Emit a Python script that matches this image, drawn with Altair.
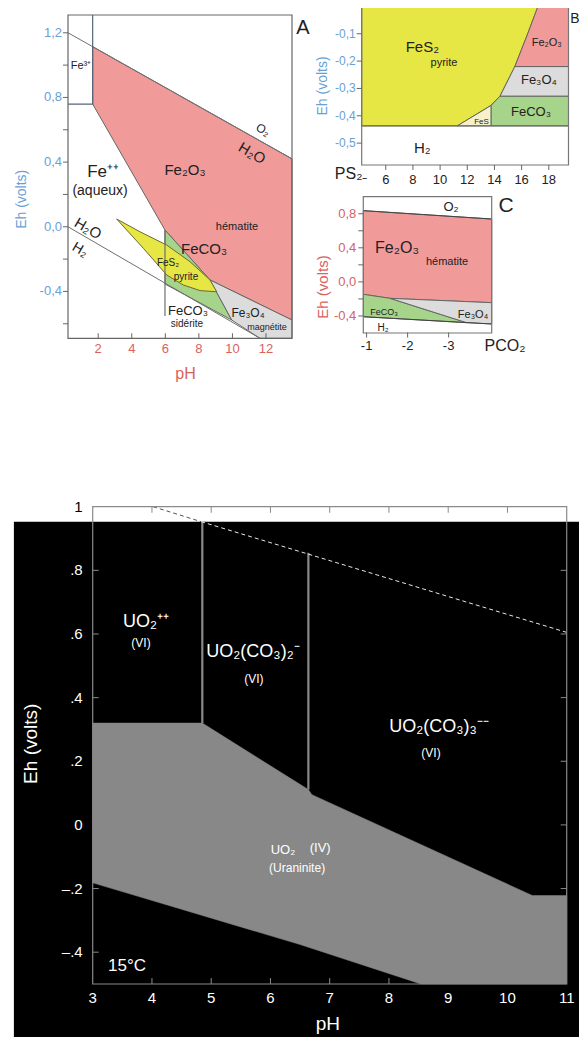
import altair as alt
import pandas as pd

W, H = 571, 1029
FONT = "Liberation Sans"

# ---------------- layout: data domain -> pixel range (chart coordinates)
PANELS = {
    "A": dict(xd=[0.2, 13.55], xr=[60, 284], yd=[-0.69, 1.31], yr=[330.3, 7]),
    "B": dict(xd=[4.23, 19.45], xr=[353.7, 560.5], yd=[-0.58, 0.0], yr=[157, -1.6]),
    "C": dict(xd=[-4.05, -0.92], xr=[483.7, 355.3], yd=[-0.6, 1.0], yr=[325, 188.7]),
    "U": dict(xd=[3, 11], xr=[84.7, 558.7], yd=[-0.5, 1.0], yr=[976, 498.7]),
}

# ---------------- Panel A : Fe  (pH, Eh)
A_O2_ph, A_O2_eh = [0.2, 13.55], [1.2, 0.42]
A_H2_ph, A_H2_eh = [0.2, 11.64], [0.0, -0.69]
A_fe3_ph, A_fe3_eh = [0.2, 1.67, 1.67], [0.759, 0.759, 1.31]
A_sid_ph, A_sid_eh = [5.98, 5.98], [-0.02, -0.552]
A_hem_ph = [1.67, 1.67, 13.55, 13.55, 8.66, 5.98]
A_hem_eh = [0.759, 1.114, 0.42, -0.577, -0.329, -0.02]
A_feco3_ph = [5.98, 8.66, 9.96, 5.98]
A_feco3_eh = [-0.02, -0.329, -0.577, -0.354]
A_mag_ph = [8.66, 13.55, 13.55, 11.64, 9.96]
A_mag_eh = [-0.329, -0.577, -0.69, -0.69, -0.577]
A_pyr_ph = [3.10, 4.49, 6.08, 7.47, 8.66, 9.06, 8.07, 7.07, 6.08, 4.69]
A_pyr_eh = [0.048, -0.031, -0.113, -0.216, -0.329, -0.402, -0.395, -0.36, -0.298, -0.133]
A_yticks = [1.2, 1.0, 0.8, 0.6, 0.4, 0.2, 0.0, -0.2, -0.4, -0.6]
A_ylab_v = [1.2, 0.8, 0.4, 0.0, -0.4]
A_ylab_t = ["1,2", "0,8", "0,4", "0,0", "-0,4"]
A_xticks = [2, 4, 6, 8, 10, 12]
A_labels = [  # text, pH, Eh, size, angle
    ("Fe³⁺", 0.97, 0.995, 11, 0),
    ("O₂", 11.82, 0.60, 12, 30),
    ("H₂O", 11.17, 0.456, 15, 30),
    ("Fe⁺⁺", 2.29, 0.339, 17, 0),
    ("(aqueux)", 2.11, 0.221, 14, 0),
    ("Fe₂O₃", 7.17, 0.351, 15, 0),
    ("hématite", 10.27, 0.0, 11, 0),
    ("FeCO₃", 8.31, -0.138, 15, 0),
    ("H₂O", 1.39, -0.01, 15, 30),
    ("H₂", 0.92, -0.144, 14, 30),
    ("FeS₂", 6.16, -0.224, 10, 0),
    ("pyrite", 7.23, -0.311, 10, 0),
    ("FeCO₃", 7.35, -0.522, 13, 0),
    ("sidérite", 7.29, -0.603, 10, 0),
    ("Fe₃O₄", 10.93, -0.533, 12, 0),
    ("magnétite", 12.06, -0.62, 9, 0),
]

# ---------------- Panel B : (PS2-, Eh)
B_pyr_x = [4.23, 17.2, 16.47, 15.5, 14.41, 13.68, 11.26, 4.23]
B_pyr_y = [0.0, 0.0, -0.097, -0.22, -0.328, -0.364, -0.437, -0.437]
B_fes_x = [11.26, 13.76, 13.76]
B_fes_y = [-0.437, -0.362, -0.437]
B_feco3_x = [13.76, 13.76, 14.41, 19.45, 19.45]
B_feco3_y = [-0.437, -0.362, -0.328, -0.328, -0.437]
B_mag_x = [14.41, 15.5, 19.45, 19.45]
B_mag_y = [-0.328, -0.22, -0.22, -0.328]
B_hem_x = [15.5, 16.47, 17.2, 19.45, 19.45]
B_hem_y = [-0.22, -0.097, 0.0, 0.0, -0.22]
B_h2_x, B_h2_y = [4.23, 19.45], [-0.437, -0.437]
B_yticks = [-0.1, -0.2, -0.3, -0.4, -0.5]
B_ylab_t = ["-0,1", "-0,2", "-0,3", "-0,4", "-0,5"]
B_xticks = [6, 8, 10, 12, 14, 16, 18]
B_labels = [
    ("FeS₂", 8.69, -0.148, 15, 0),
    ("pyrite", 10.29, -0.207, 11, 0),
    ("Fe₂O₃", 17.85, -0.134, 11, 0),
    ("Fe₃O₄", 17.27, -0.269, 13, 0),
    ("FeCO₃", 16.69, -0.386, 13, 0),
    ("FeS", 13.05, -0.423, 8, 0),
    ("H₂", 8.69, -0.518, 15, 0),
]

# ---------------- Panel C : (PCO2, Eh)
C_O2_x, C_O2_y = [-0.92, -4.05], [0.836, 0.738]
C_H2_x, C_H2_y = [-0.92, -4.05], [-0.409, -0.494]
C_hem_x = [-0.92, -4.05, -4.05, -1.571, -0.92]
C_hem_y = [0.836, 0.738, -0.244, -0.193, -0.146]
C_feco3_x = [-0.92, -1.571, -3.44, -0.92]
C_feco3_y = [-0.146, -0.193, -0.479, -0.409]
C_mag_x = [-1.571, -4.05, -4.05, -3.44]
C_mag_y = [-0.193, -0.244, -0.494, -0.479]
C_yticks = [0.8, 0.6, 0.4, 0.2, 0.0, -0.2, -0.4]
C_ylab_v = [0.8, 0.4, 0.0, -0.4]
C_ylab_t = ["0,8", "0,4", "0,0", "-0,4"]
C_xticks = [-1, -2, -3]
C_labels = [
    ("O₂", -3.058, 0.879, 13, 0),
    ("Fe₂O₃", -1.741, 0.398, 16, 0),
    ("hématite", -2.96, 0.234, 11, 0),
    ("FeCO₃", -1.425, -0.353, 9, 0),
    ("Fe₃O₄", -3.594, -0.389, 11, 0),
    ("H₂", -1.401, -0.541, 10, 0),
]

# ---------------- Panel U : uranium (pH, Eh)
U_back_x, U_back_y = [1.67, 11.35], [0.953, -0.67]
U_uran_ph = [3, 4.85, 6.64, 6.70, 10.42, 11, 11, 8.54, 6.5, 3]
U_uran_eh = [0.32, 0.32, 0.111, 0.095, -0.222, -0.222, -0.5, -0.5, -0.376, -0.182]
U_v1_ph, U_v1_eh = [4.85, 4.85], [0.32, 0.953]
U_v2_ph, U_v2_eh = [6.64, 6.64], [0.111, 0.855]
U_o2a_ph, U_o2a_eh = [4.02, 4.83], [1.0, 0.953]
U_o2b_ph, U_o2b_eh = [4.83, 11.0], [0.953, 0.605]
U_xticks = [4, 5, 6, 7, 8, 9, 10]
U_xlab = [3, 4, 5, 6, 7, 8, 9, 10, 11]
U_yticks = [0.8, 0.6, 0.4, 0.2, 0.0, -0.2, -0.4]
U_ylab_v = [1.0, 0.8, 0.6, 0.4, 0.2, 0.0, -0.2, -0.4]
U_ylab_t = ["1", ".8", ".6", ".4", ".2", "0", "–.2", "–.4"]
U_ylab_c = ["black", "white", "white", "white", "white", "white", "white", "white"]
U_labels = [
    ("UO₂⁺⁺", 3.90, 0.638, 18, 0),
    ("(VI)", 3.815, 0.572, 12, 0),
    ("UO₂(CO₃)₂⁻", 5.705, 0.544, 18, 0),
    ("(VI)", 5.72, 0.459, 12, 0),
    ("UO₂(CO₃)₃⁻⁻", 8.845, 0.308, 18, 0),
    ("(VI)", 8.71, 0.227, 12, 0),
    ("UO₂", 6.21, -0.078, 13, 0),
    ("(IV)", 6.84, -0.074, 13, 0),
    ("(Uraninite)", 6.45, -0.135, 12, 0),
    ("15°C", 3.58, -0.444, 17, 0),
]

PINK, YELLOW, GREEN, GREY, PALE = "#f09a9a", "#e6e645", "#a6d48a", "#dcdcdc", "#f6f1c9"
EDGE = "#666666"
BLUE, RED = "#6a9fd4", "#d9625e"


def sc(p, a):
    g = PANELS[p]
    return alt.Scale(domain=g[a + "d"], range=g[a + "r"], nice=False, zero=False)


def enc(p, x="x", y="y", x2=None, y2=None):
    e = {"x": alt.X(f"{x}:Q", scale=sc(p, "x"), axis=None),
         "y": alt.Y(f"{y}:Q", scale=sc(p, "y"), axis=None)}
    if x2:
        e["x2"] = alt.X2(f"{x2}:Q")
    if y2:
        e["y2"] = alt.Y2(f"{y2}:Q")
    return e


def poly(p, xs, ys, fill, stroke=EDGE, sw=1.0):
    df = pd.DataFrame({"x": xs + xs[:1], "y": ys + ys[:1], "o": list(range(len(xs) + 1))})
    return alt.Chart(df).mark_line(fill=fill, stroke=stroke, strokeWidth=sw,
                                   strokeJoin="round").encode(**enc(p), order="o:Q")


def path(p, xs, ys, color, sw=1.0, dash=None):
    df = pd.DataFrame({"x": xs, "y": ys, "o": list(range(len(xs)))})
    kw = dict(color=color, strokeWidth=sw)
    if dash:
        kw["strokeDash"] = dash
    return alt.Chart(df).mark_line(**kw).encode(**enc(p), order="o:Q")


def frame(p, stroke, sw=1.0):
    g = PANELS[p]
    df = pd.DataFrame({"x": [g["xd"][0]], "x2": [g["xd"][1]], "y": [g["yd"][0]], "y2": [g["yd"][1]]})
    return alt.Chart(df).mark_rect(fill="transparent", stroke=stroke, strokeWidth=sw).encode(
        **enc(p, x2="x2", y2="y2"))


def ticks(p, vals, axis, at, offset, size=5, color=EDGE):
    if axis == "x":
        df = pd.DataFrame({"x": vals, "y": [at] * len(vals)})
        m = alt.Chart(df).mark_tick(orient="vertical", size=size, thickness=1, color=color,
                                    opacity=1, yOffset=offset)
    else:
        df = pd.DataFrame({"x": [at] * len(vals), "y": vals})
        m = alt.Chart(df).mark_tick(orient="horizontal", size=size, thickness=1, color=color,
                                    opacity=1, xOffset=offset)
    return m.encode(**enc(p))


def labels(p, rows, color, align="center", baseline="middle"):
    df = pd.DataFrame(rows, columns=["t", "x", "y", "s", "a"])
    return alt.Chart(df).mark_text(font=FONT, color=color, align=align, baseline=baseline).encode(
        **enc(p), text="t:N", size=alt.Size("s:Q", scale=None), angle=alt.Angle("a:Q", scale=None))


def axis_text(p, xs, ys, texts, color, size, align="center", xo=0, yo=0, angle=0, colors=None):
    df = pd.DataFrame({"x": xs, "y": ys, "t": texts})
    kw = dict(font=FONT, fontSize=size, align=align, baseline="middle", xOffset=xo, yOffset=yo, angle=angle)
    if colors is None:
        kw["color"] = color
        return alt.Chart(df).mark_text(**kw).encode(**enc(p), text="t:N")
    df["c"] = colors
    return alt.Chart(df).mark_text(**kw).encode(**enc(p), text="t:N", color=alt.Color("c:N", scale=None))


L = []
# ---- A
a = PANELS["A"]
L += [
    poly("A", A_hem_ph, A_hem_eh, PINK),
    poly("A", A_feco3_ph, A_feco3_eh, GREEN),
    poly("A", A_mag_ph, A_mag_eh, GREY),
    poly("A", A_pyr_ph, A_pyr_eh, YELLOW, stroke="#6b6b30"),
    path("A", A_O2_ph, A_O2_eh, "#6f6f6f"),
    path("A", A_H2_ph, A_H2_eh, "#6f6f6f"),
    path("A", A_fe3_ph, A_fe3_eh, "#55657a", 1.2),
    path("A", A_sid_ph, A_sid_eh, "#6f6f6f", 1.2),
    frame("A", "#666666", 1.2),
    ticks("A", A_yticks, "y", a["xd"][0], -2.5),
    ticks("A", A_xticks, "x", a["yd"][0], -2.5),
    axis_text("A", [a["xd"][0]] * 5, A_ylab_v, A_ylab_t, BLUE, 13, align="right", xo=-6),
    axis_text("A", A_xticks, [a["yd"][0]] * 6, [str(v) for v in A_xticks], RED, 13, yo=11),
    axis_text("A", [7.2], [a["yd"][0]], ["pH"], RED, 16, yo=36),
    axis_text("A", [a["xd"][0]], [0.17], ["Eh (volts)"], BLUE, 14, xo=-46, angle=270),
    axis_text("A", [13.8], [1.23], ["A"], "#222222", 20, align="left"),
    labels("A", A_labels, "#222222"),
]
# ---- B
b = PANELS["B"]
L += [
    poly("B", B_pyr_x, B_pyr_y, YELLOW, stroke="#77772e"),
    poly("B", B_fes_x, B_fes_y, PALE),
    poly("B", B_feco3_x, B_feco3_y, GREEN),
    poly("B", B_mag_x, B_mag_y, GREY),
    poly("B", B_hem_x, B_hem_y, PINK),
    path("B", B_h2_x, B_h2_y, "#666666"),
    frame("B", "#777777", 1.2),
    ticks("B", B_yticks, "y", b["xd"][0], -2.5),
    ticks("B", B_xticks, "x", b["yd"][0], 2.5),
    axis_text("B", [b["xd"][0]] * 5, B_yticks, B_ylab_t, BLUE, 12, align="right", xo=-6),
    axis_text("B", B_xticks, [b["yd"][0]] * 7, [str(v) for v in B_xticks], "#222222", 13, yo=15),
    axis_text("B", [3.45], [b["yd"][0]], ["PS₂₋"], "#222222", 16, yo=9),
    axis_text("B", [b["xd"][0]], [-0.291], ["Eh (volts)"], BLUE, 14, xo=-39, angle=270),
    axis_text("B", [19.58], [-0.045], ["B"], "#222222", 14, align="left"),
    labels("B", B_labels, "#222222"),
]
# ---- C
c = PANELS["C"]
L += [
    poly("C", C_hem_x, C_hem_y, PINK),
    poly("C", C_feco3_x, C_feco3_y, GREEN),
    poly("C", C_mag_x, C_mag_y, GREY),
    path("C", C_O2_x, C_O2_y, "#444444"),
    path("C", C_H2_x, C_H2_y, "#444444"),
    frame("C", "#777777", 1.2),
    ticks("C", C_yticks, "y", c["xd"][1], -2.5),
    ticks("C", C_xticks, "x", c["yd"][0], 2),
    axis_text("C", [c["xd"][1]] * 4, C_ylab_v, C_ylab_t, RED, 13, align="right", xo=-7),
    axis_text("C", C_xticks, [c["yd"][0]] * 3, [str(v) for v in C_xticks], "#222222", 13, yo=13),
    axis_text("C", [-4.374], [c["yd"][0]], ["PCO₂"], "#222222", 16, yo=13),
    axis_text("C", [c["xd"][1]], [-0.06], ["Eh (volts)"], RED, 15, xo=-40, angle=270),
    axis_text("C", [-4.399], [0.891], ["C"], "#222222", 21),
    labels("C", C_labels, "#222222"),
]
# ---- U
u = PANELS["U"]
back = pd.DataFrame({"x": [U_back_x[0]], "x2": [U_back_x[1]], "y": [U_back_y[0]], "y2": [U_back_y[1]]})
UG = "#8a8a8a"
L += [
    alt.Chart(back).mark_rect(color="black").encode(**enc("U", x2="x2", y2="y2")),
    poly("U", U_uran_ph, U_uran_eh, "#888888", stroke="#888888", sw=0.5),
    path("U", U_v1_ph, U_v1_eh, UG, 2.2),
    path("U", U_v2_ph, U_v2_eh, UG, 2.2),
    path("U", U_o2a_ph, U_o2a_eh, "#555555", 1, [4, 3]),
    path("U", U_o2b_ph, U_o2b_eh, "#e8e8e8", 1, [4, 3]),
    frame("U", UG, 1.2),
    ticks("U", U_xticks, "x", u["yd"][0], -3, 6, UG),
    ticks("U", U_xticks, "x", u["yd"][1], 3, 6, UG),
    ticks("U", U_yticks, "y", u["xd"][0], 3, 6, UG),
    ticks("U", U_yticks, "y", u["xd"][1], -3, 6, UG),
    axis_text("U", U_xlab, [u["yd"][0]] * 9, [str(v) for v in U_xlab], "white", 15, yo=14),
    axis_text("U", [u["xd"][0]] * 8, U_ylab_v, U_ylab_t, "white", 15, align="right", xo=-10,
              colors=U_ylab_c),
    axis_text("U", [6.97], [u["yd"][0]], ["pH"], "white", 19, yo=40),
    axis_text("U", [u["xd"][0]], [0.255], ["Eh (volts)"], "white", 19, xo=-62, angle=270),
    labels("U", U_labels, "white"),
]

chart = alt.layer(*L).resolve_scale(x="independent", y="independent").properties(
    width=W, height=H, padding=0, autosize=alt.AutoSizeParams(type="none"), background="white"
).configure_view(strokeWidth=0)

chart.save("out.html", embed_options={"renderer": "svg", "actions": False})
